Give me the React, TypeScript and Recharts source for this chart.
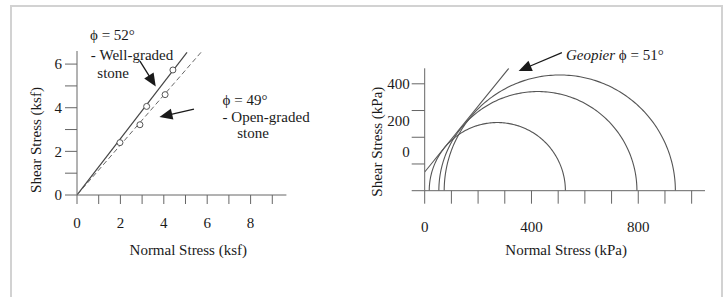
import React from 'react';
import {
  ComposedChart,
  Line,
  Scatter,
  XAxis,
  YAxis,
  ReferenceDot,
  ReferenceLine,
} from 'recharts';

const FONT = '"Liberation Serif", "Times New Roman", Times, serif';
const INK = '#1a1a1a';
const LINE = '#555555';
const AXIS = '#666666';

// ---------- Left chart (ksf) ----------
const ksfXTicks = [0, 1, 2, 3, 4, 5, 6, 7, 8, 9];
const ksfXLabels = ['0', '', '2', '', '4', '', '6', '', '8', ''];
const ksfYTicks = [0, 1, 2, 3, 4, 5, 6];
const ksfYLabels = ['0', '', '2', '', '4', '', '6'];
const wellGradedPoints = [
  { x: 1.98, y: 2.4 },
  { x: 3.21, y: 4.06 },
  { x: 4.42, y: 5.73 },
];
const openGradedPoints = [
  { x: 2.9, y: 3.22 },
  { x: 4.06, y: 4.6 },
];
const wellGradedLine = [
  { x: 0, y: 0 },
  { x: 5.07, y: 6.54 },
];
const openGradedLine = [
  { x: 0, y: 0 },
  { x: 5.76, y: 6.59 },
];

// ---------- Right chart (kPa) ----------
const kpaXTicks = [0, 100, 200, 300, 400, 500, 600, 700, 800, 900, 1000];
const kpaXLabels = ['0', '', '', '', '400', '', '', '', '800', '', ''];
const kpaYTicks = [0, 100, 200, 300, 400];
const kpaYLabelValues = [146, 262, 400];
const kpaYLabels = ['0', '200', '400'];
const mohrSigma3 = [17, 53, 73];
const mohrSigma1 = [527, 795, 939];
const geopierLine = [
  { x: 0, y: 70 },
  { x: 315, y: 458 },
];

// semicircle outline of a Mohr circle from its principal stresses
function mohrOutline(s3: number, s1: number) {
  const c = (s3 + s1) / 2;
  const r = (s1 - s3) / 2;
  const pts: { x: number; y: number }[] = [];
  const n = 160;
  for (let k = 0; k <= n; k++) {
    const t = (Math.PI * k) / n;
    pts.push({ x: c - r * Math.cos(t), y: r * Math.sin(t) });
  }
  return pts;
}
const mohrCircles = mohrSigma3.map((s3, i) => mohrOutline(s3, mohrSigma1[i]));

const labelOf = (ticks: number[], labels: string[]) => (v: number) => {
  const i = ticks.indexOf(v);
  return i >= 0 ? labels[i] : '';
};

const tickStyle = { fill: INK, fontSize: 15, fontFamily: FONT };

const XTitle = (props: any) => {
  const { viewBox, text, dx = 0, dy = 0 } = props;
  const x = viewBox.x + viewBox.width / 2 + dx;
  const y = viewBox.y + dy;
  return (
    <text x={x} y={y} textAnchor="middle" fontFamily={FONT} fontSize={15} fill={INK}>
      {text}
    </text>
  );
};

const YTitle = (props: any) => {
  const { viewBox, text, dx = 0, dy = 0 } = props;
  const x = viewBox.x + dx;
  const y = viewBox.y + dy;
  return (
    <text
      x={x}
      y={y + 5}
      transform={`rotate(-90 ${x} ${y})`}
      textAnchor="middle"
      fontFamily={FONT}
      fontSize={15}
      fill={INK}
    >
      {text}
    </text>
  );
};

const Arrow = (p: any) => {
  const { x1, y1, x2, y2 } = p;
  const dx = x2 - x1;
  const dy = y2 - y1;
  const len = Math.hypot(dx, dy) || 1;
  const ux = dx / len;
  const uy = dy / len;
  const L = 13;
  const W = 5.5;
  const bx = x2 - ux * L;
  const by = y2 - uy * L;
  const px = -uy;
  const py = ux;
  return (
    <g>
      <line x1={x1} y1={y1} x2={bx + ux} y2={by + uy} stroke={INK} strokeWidth={1.3} />
      <polygon
        points={`${x2},${y2} ${bx + px * W},${by + py * W} ${bx - px * W},${by - py * W}`}
        fill={INK}
      />
    </g>
  );
};

type NoteLine = { text: React.ReactNode; dx: number; dy: number };
const Note = (props: any) => {
  const { cx, cy, lines } = props as { cx: number; cy: number; lines: NoteLine[] };
  return (
    <text fontFamily={FONT} fontSize={15} fill={INK}>
      {lines.map((l, i) => (
        <tspan key={i} x={cx + l.dx} y={cy + l.dy + 5}>
          {l.text}
        </tspan>
      ))}
    </text>
  );
};

const OpenDot = (p: any) => (
  <circle cx={p.cx} cy={p.cy} r={3} fill="#ffffff" stroke={LINE} strokeWidth={1} />
);

const wellNote: NoteLine[] = [
  { text: 'ϕ = 52°', dx: 0, dy: 0 },
  { text: '- Well-graded', dx: 0.7, dy: 20 },
  { text: 'stone', dx: 7.3, dy: 37.7 },
];
const openNote: NoteLine[] = [
  { text: 'ϕ = 49°', dx: 0, dy: 0 },
  { text: '- Open-graded', dx: 0, dy: 16.5 },
  { text: 'stone', dx: 14.6, dy: 32.5 },
];
const geoNote: NoteLine[] = [
  {
    text: (
      <>
        <tspan fontStyle="italic">Geopier</tspan> ϕ = 51°
      </>
    ),
    dx: 0,
    dy: 0,
  },
];

function LeftChart() {
  return (
    <ComposedChart
      width={362}
      height={297}
      margin={{ top: 51, right: 75.6, bottom: 42, left: 22 }}
    >
      <XAxis
        type="number"
        dataKey="x"
        domain={[0, 9.65]}
        allowDataOverflow
        ticks={ksfXTicks}
        interval={0}
        tickFormatter={labelOf(ksfXTicks, ksfXLabels)}
        tickSize={9}
        tickMargin={13}
        height={60}
        axisLine={{ stroke: AXIS }}
        tickLine={{ stroke: AXIS }}
        tick={tickStyle}
        label={<XTitle text="Normal Stress (ksf)" dx={6.6} dy={60} />}
      />
      <YAxis
        type="number"
        dataKey="y"
        domain={[0, 6.6]}
        allowDataOverflow
        ticks={ksfYTicks}
        interval={0}
        tickFormatter={labelOf(ksfYTicks, ksfYLabels)}
        tickSize={12}
        tickMargin={3}
        width={55}
        axisLine={{ stroke: AXIS }}
        tickLine={{ stroke: AXIS }}
        tick={tickStyle}
        label={<YTitle text="Shear Stress (ksf)" dx={13.7} dy={89} />}
      />
      <Line
        data={wellGradedLine}
        dataKey="y"
        type="linear"
        stroke="#444444"
        strokeWidth={1.2}
        dot={false}
        isAnimationActive={false}
      />
      <Line
        data={openGradedLine}
        dataKey="y"
        type="linear"
        stroke="#666666"
        strokeWidth={1}
        strokeDasharray="5 3"
        dot={false}
        isAnimationActive={false}
      />
      <Scatter data={wellGradedPoints} dataKey="y" shape={OpenDot} isAnimationActive={false} />
      <Scatter data={openGradedPoints} dataKey="y" shape={OpenDot} isAnimationActive={false} />
      <ReferenceLine
        segment={[
          { x: 2.9, y: 6.14 },
          { x: 3.63, y: 4.97 },
        ]}
        ifOverflow="visible"
        shape={Arrow}
      />
      <ReferenceLine
        segment={[
          { x: 5.39, y: 3.94 },
          { x: 3.8, y: 3.57 },
        ]}
        ifOverflow="visible"
        shape={Arrow}
      />
      <ReferenceDot
        x={0.6}
        y={7.33}
        r={1}
        ifOverflow="visible"
        shape={(p: any) => <Note cx={p.cx} cy={p.cy} lines={wellNote} />}
      />
      <ReferenceDot
        x={6.71}
        y={4.35}
        r={1}
        ifOverflow="visible"
        shape={(p: any) => <Note cx={p.cx} cy={p.cy} lines={openNote} />}
      />
    </ComposedChart>
  );
}

function RightChart() {
  return (
    <ComposedChart
      width={363}
      height={297}
      margin={{ top: 68.3, right: 20, bottom: 42, left: 9.7 }}
    >
      <XAxis
        type="number"
        dataKey="x"
        domain={[0, 1050]}
        allowDataOverflow
        ticks={kpaXTicks}
        interval={0}
        tickFormatter={labelOf(kpaXTicks, kpaXLabels)}
        tickSize={13}
        tickMargin={17.7}
        height={64.3}
        axisLine={{ stroke: AXIS }}
        tickLine={{ stroke: AXIS }}
        tick={tickStyle}
        label={<XTitle text="Normal Stress (kPa)" dx={1.3} dy={64.3} />}
      />
      <YAxis
        yAxisId="a_ticks"
        type="number"
        dataKey="y"
        domain={[0, 458]}
        allowDataOverflow
        ticks={kpaYTicks}
        interval={0}
        tickFormatter={() => ''}
        tickSize={13}
        tickMargin={0}
        width={13}
        axisLine={{ stroke: AXIS }}
        tickLine={{ stroke: AXIS }}
        tick={tickStyle}
      />
      <YAxis
        yAxisId="b_labels"
        type="number"
        dataKey="y"
        domain={[0, 458]}
        allowDataOverflow
        ticks={kpaYLabelValues}
        interval={0}
        tickFormatter={labelOf(kpaYLabelValues, kpaYLabels)}
        tickSize={0}
        tickMargin={2}
        width={40}
        axisLine={false}
        tickLine={false}
        tick={tickStyle}
        label={<YTitle text="Shear Stress (kPa)" dx={5.3} dy={73.4} />}
      />
      {mohrCircles.map((c, i) => (
        <Line
          key={i}
          yAxisId="a_ticks"
          data={c}
          dataKey="y"
          type="linear"
          stroke={LINE}
          strokeWidth={1.1}
          dot={false}
          isAnimationActive={false}
        />
      ))}
      <Line
        yAxisId="a_ticks"
        data={geopierLine}
        dataKey="y"
        type="linear"
        stroke={LINE}
        strokeWidth={1.1}
        dot={false}
        isAnimationActive={false}
      />
      <ReferenceLine
        yAxisId="a_ticks"
        segment={[
          { x: 514, y: 517 },
          { x: 352, y: 448 },
        ]}
        ifOverflow="visible"
        shape={Arrow}
      />
      <ReferenceDot
        yAxisId="a_ticks"
        x={529}
        y={508}
        r={1}
        ifOverflow="visible"
        shape={(p: any) => <Note cx={p.cx} cy={p.cy} lines={geoNote} />}
      />
    </ComposedChart>
  );
}

export default function App() {
  return (
    <div
      style={{
        position: 'absolute',
        left: 0,
        top: 0,
        width: 725,
        height: 297,
        overflow: 'hidden',
        background: '#ffffff',
      }}
    >
      <div
        style={{
          position: 'absolute',
          left: 10,
          top: 5,
          width: 713,
          height: 320,
          boxSizing: 'border-box',
          borderTop: '2px solid #d2d2d2',
          borderLeft: '2px solid #d2d2d2',
          borderRight: '2px solid #d2d2d2',
        }}
      />
      <div style={{ position: 'absolute', left: 0, top: 0 }}>
        <LeftChart />
      </div>
      <div style={{ position: 'absolute', left: 362, top: 0 }}>
        <RightChart />
      </div>
    </div>
  );
}
